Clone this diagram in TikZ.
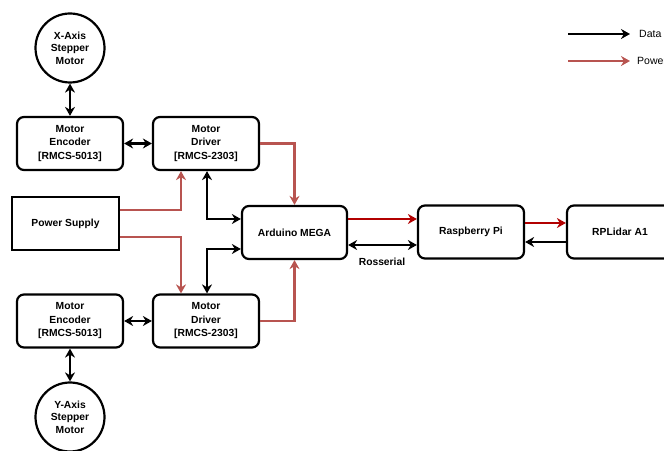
\documentclass[tikz,border=0pt]{standalone}
\usepackage{fontspec}
\setmainfont{Liberation Sans}
\usetikzlibrary{arrows.meta,calc}
\definecolor{pwr}{HTML}{B85450}
\definecolor{dpwr}{HTML}{B20000}
\begin{document}
\begin{tikzpicture}[x=1pt,y=1pt,
  tip/.style={Stealth[length=9pt,width=10pt]},
  blk/.style={draw, line width=2.2pt, rounded corners=7pt, minimum width=106pt, minimum height=53pt, align=center, font=\bfseries\fontsize{10.3}{13.5}\selectfont, inner sep=1pt},
  sqblk/.style={blk, rounded corners=0pt},
  motor/.style={draw, circle, line width=2.2pt, minimum size=69pt, align=center, font=\bfseries\fontsize{10.3}{12.5}\selectfont, inner sep=0pt},
  data/.style={line width=2.2pt, draw=black, -{Stealth[length=9pt,width=10pt]}},
  bdata/.style={data, {Stealth[length=9pt,width=10pt]}-{Stealth[length=9pt,width=10pt]}},
  power/.style={line width=2.2pt, draw=pwr, -{Stealth[length=9pt,width=10pt]}},
  dpower/.style={line width=2.2pt, draw=dpwr, -{Stealth[length=9pt,width=10pt]}},
  lbl/.style={font=\bfseries\fontsize{10.3}{12}\selectfont, inner sep=1pt},
  leg/.style={font=\fontsize{10.5}{12}\selectfont, inner sep=0pt, anchor=west}]
\useasboundingbox (0,0) rectangle (664,450);
% nodes
\node[motor] (xm) at (70,402) {X-Axis\\Stepper\\Motor};
\node[blk] (enc1) at (70,306.5) {Motor\\Encoder\\{[RMCS-5013]}};
\node[blk] (drv1) at (206,306.5) {Motor\\Driver\\{[RMCS-2303]}};
\node[sqblk, minimum width=107pt] (ps) at (65.5,226.5) {Power Supply};
\node[blk, minimum width=105pt] (ard) at (294.5,217.5) {Arduino MEGA};
\node[blk] (rpi) at (471,218) {Raspberry Pi};
\node[blk] (lid) at (620,218) {RPLidar A1};
\node[blk] (enc2) at (70,129) {Motor\\Encoder\\{[RMCS-5013]}};
\node[blk] (drv2) at (206,129) {Motor\\Driver\\{[RMCS-2303]}};
\node[motor] (ym) at (70,33) {Y-Axis\\Stepper\\Motor};
\node[lbl] (ros) at (382,188) {Rosserial};
% connectors (top)
\draw[bdata] (xm.south) -- (enc1.north);
\draw[bdata] (enc1.east) -- (drv1.west);
\draw[power] (drv1.east) -| (ard.north);
\draw[power] ($(ps.east)+(0,13.5)$) -| ($(drv1.south)+(-25,0)$);
\draw[bdata] ($(drv1.south)+(1,0)$) |- ($(ard.west)+(0,13.5)$);
% connectors (bottom)
\draw[bdata] (enc2.south) -- (ym.north);
\draw[bdata] (enc2.east) -- (drv2.west);
\draw[power] (drv2.east) -| (ard.south);
\draw[power] ($(ps.east)+(0,-13.5)$) -| ($(drv2.north)+(-25,0)$);
\draw[bdata] ($(drv2.north)+(1,0)$) |- ($(ard.west)+(0,-16.5)$);
% right side
\draw[dpower] ($(ard.east)+(0,13.5)$) -- ($(rpi.west)+(0,13)$);
\draw[bdata] ($(ard.east)+(0,-12.5)$) -- ($(rpi.west)+(0,-13)$);
\draw[dpower] ($(rpi.east)+(0,9)$) -- ($(lid.west)+(0,9)$);
\draw[data] ($(lid.west)+(0,-10)$) -- ($(rpi.east)+(0,-10)$);
% legend
\coordinate (d1) at (568,416);
\coordinate (d2) at (630,416);
\coordinate (p1) at (568,389);
\coordinate (p2) at (630,389);
\draw[data] (d1) -- (d2);
\draw[power] (p1) -- (p2);
\node[leg] (ld) at (639,416) {Data};
\node[leg] (lp) at (637,389) {Power};
\end{tikzpicture}
\end{document}
